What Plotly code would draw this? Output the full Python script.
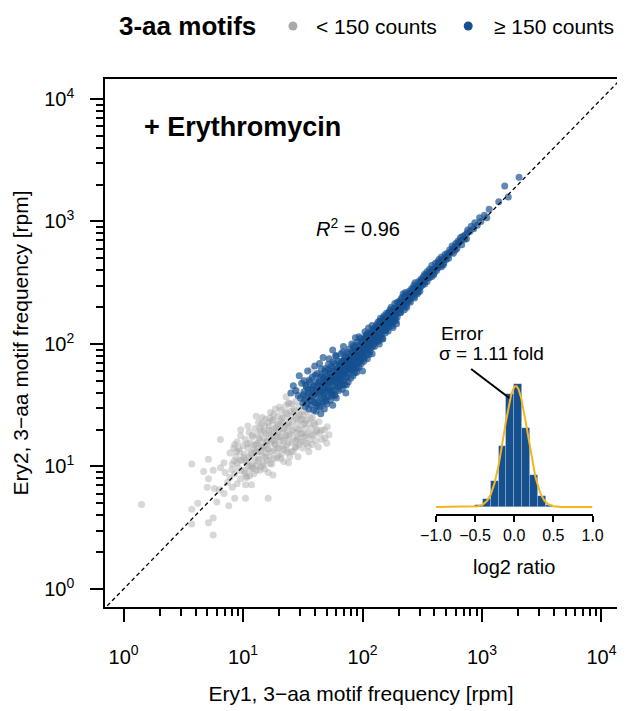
import numpy as np
import plotly.graph_objects as go

# ---------------- data (log10 rpm) ----------------
# (log10 Ery1 frequency, log10 Ery2 frequency) for motifs with < 150 counts
gray_motifs_log10 = [
    (0.15, 0.69), (0.57, 0.53), (0.57, 0.65), (0.57, 1.02), (0.62, 0.70), (0.67, 0.96),
    (0.70, 0.83), (0.71, 0.54), (0.71, 0.90), (0.71, 1.06), (0.75, 0.44), (0.75, 0.58),
    (0.75, 0.97), (0.76, 0.82), (0.78, 0.71), (0.80, 0.81), (0.81, 0.99), (0.81, 1.22),
    (0.84, 0.78), (0.84, 1.03), (0.85, 0.95), (0.87, 0.87), (0.88, 0.68), (0.89, 0.91),
    (0.89, 1.11), (0.91, 0.83), (0.93, 0.74), (0.93, 1.18), (0.95, 0.86), (0.97, 1.05),
    (0.98, 1.30), (1.02, 0.74), (1.02, 0.85), (1.03, 0.91), (1.07, 0.85), (1.11, 0.97),
    (1.11, 1.41), (1.21, 0.74), (1.21, 0.95), (1.25, 0.93), (1.38, 1.03), (1.44, 1.16),
    (0.91, 1.02), (0.92, 1.15), (0.93, 0.94), (0.94, 1.08), (0.95, 1.20), (0.96, 0.99),
    (0.97, 1.12), (0.98, 0.90), (0.99, 1.05), (1.00, 1.17), (0.95, 1.03), (0.98, 1.25),
    (1.01, 0.97), (1.01, 1.10), (1.02, 1.22), (1.03, 1.03), (1.03, 0.92), (1.04, 1.15),
    (1.05, 1.07), (1.05, 1.28), (1.06, 0.98), (1.06, 1.19), (1.07, 1.11), (1.08, 1.02),
    (1.08, 1.24), (1.09, 1.14), (1.09, 0.94), (1.10, 1.07), (1.10, 1.31), (1.02, 1.05),
    (1.07, 1.00), (1.04, 1.33), (1.11, 1.18), (1.11, 1.01), (1.12, 1.12), (1.12, 1.26),
    (1.13, 1.06), (1.13, 1.36), (1.14, 1.21), (1.14, 0.97), (1.15, 1.15), (1.15, 1.29),
    (1.16, 1.09), (1.16, 1.40), (1.17, 1.23), (1.17, 1.03), (1.18, 1.17), (1.18, 1.33),
    (1.19, 1.11), (1.19, 1.27), (1.20, 1.05), (1.20, 1.20), (1.12, 1.19), (1.16, 1.16),
    (1.18, 0.98), (1.14, 1.31), (1.21, 1.36), (1.21, 1.14), (1.22, 1.25), (1.22, 1.08),
    (1.23, 1.44), (1.23, 1.19), (1.24, 1.30), (1.24, 1.02), (1.25, 1.22), (1.25, 1.38),
    (1.26, 1.13), (1.26, 1.28), (1.27, 1.47), (1.27, 1.18), (1.28, 1.33), (1.28, 1.07),
    (1.29, 1.24), (1.29, 1.41), (1.30, 1.15), (1.30, 1.30), (1.22, 1.33), (1.26, 1.21),
    (1.28, 1.26), (1.24, 1.12), (1.31, 1.37), (1.31, 1.21), (1.32, 1.10), (1.32, 1.46),
    (1.33, 1.28), (1.33, 1.17), (1.34, 1.40), (1.34, 1.04), (1.35, 1.33), (1.35, 1.23),
    (1.36, 1.50), (1.36, 1.13), (1.37, 1.29), (1.37, 1.43), (1.38, 1.19), (1.38, 1.36),
    (1.39, 1.08), (1.39, 1.26), (1.40, 1.45), (1.40, 1.33), (1.33, 1.35), (1.36, 1.25),
    (1.38, 1.52), (1.34, 1.14), (1.41, 1.20), (1.41, 1.51), (1.42, 1.38), (1.42, 1.12),
    (1.43, 1.28), (1.43, 1.45), (1.44, 1.16), (1.44, 1.53), (1.45, 1.35), (1.45, 1.24),
    (1.46, 1.41), (1.46, 1.08), (1.47, 1.30), (1.47, 1.49), (1.48, 1.20), (1.48, 1.38),
    (1.49, 1.27), (1.49, 1.45), (1.50, 1.15), (1.50, 1.34), (1.51, 1.42), (1.51, 1.24),
    (1.52, 1.31), (1.53, 1.19), (1.53, 1.38), (1.54, 1.27), (1.55, 1.35), (1.55, 1.12),
    (1.56, 1.22), (1.57, 1.31), (1.58, 1.18), (1.58, 1.40), (1.59, 1.26), (1.60, 1.34),
    (1.61, 1.21), (1.62, 1.30), (1.63, 1.16), (1.64, 1.27), (1.66, 1.22), (1.68, 1.30),
    (1.70, 1.19), (1.72, 1.26), (1.57, 1.79), (1.36, 1.57), (1.45, 1.62),
    (1.005, 1.075), (1.015, 0.945), (1.035, 1.185), (1.045, 1.005), (1.065, 1.095), (1.075, 1.255),
    (1.085, 0.985), (1.095, 1.175), (1.105, 1.125), (1.125, 1.045), (1.135, 1.235), (1.145, 1.125),
    (1.155, 1.345), (1.165, 1.005), (1.175, 1.285), (1.185, 1.075), (1.195, 1.205), (1.205, 1.145),
    (1.215, 1.295), (1.225, 1.025), (1.235, 1.245), (1.245, 1.375), (1.255, 1.065), (1.265, 1.185),
    (1.275, 1.315), (1.285, 1.145), (1.295, 1.345), (1.305, 1.245), (1.315, 1.065), (1.325, 1.395),
    (1.335, 1.215), (1.345, 1.305), (1.355, 1.445), (1.365, 1.175), (1.375, 1.345), (1.385, 1.245),
    (1.395, 1.405), (1.405, 1.125), (1.415, 1.295), (1.425, 1.465), (1.435, 1.215), (1.445, 1.395),
    (1.455, 1.305), (1.465, 1.175), (1.475, 1.425), (1.485, 1.265), (1.495, 1.385), (1.505, 1.205),
    (1.515, 1.355), (1.525, 1.255), (1.535, 1.445), (1.545, 1.165), (1.565, 1.395), (1.575, 1.255),
    (1.595, 1.355), (1.615, 1.285), (1.635, 1.365), (1.655, 1.295), (1.685, 1.235), (1.705, 1.325),
    (0.965, 1.145), (0.985, 0.965), (0.945, 1.125), (0.925, 1.045), (0.905, 0.975), (1.055, 0.925),
    (1.145, 0.995), (1.225, 1.395), (1.305, 1.485), (1.385, 1.515), (1.295, 1.085), (1.375, 1.115),
    (1.455, 1.225), (1.255, 1.425), (1.185, 1.385),
]

# (log10 Ery1 frequency, log10 Ery2 frequency) for motifs with >= 150 counts
blue_motifs_log10 = [
    (1.40, 1.60), (1.42, 1.66), (1.44, 1.62), (1.46, 1.58), (1.47, 1.74), (1.48, 1.56), (1.49, 1.68),
    (1.50, 1.52), (1.51, 1.61), (1.51, 1.70), (1.52, 1.49), (1.53, 1.57), (1.53, 1.65), (1.54, 1.78),
    (1.55, 1.47), (1.55, 1.60), (1.56, 1.54), (1.56, 1.69), (1.57, 1.63), (1.57, 1.50), (1.58, 1.73),
    (1.58, 1.57), (1.59, 1.46), (1.59, 1.66), (1.60, 1.82), (1.60, 1.60), (1.60, 1.52),
    (1.61, 1.45), (1.61, 1.69), (1.62, 1.56), (1.62, 1.76), (1.63, 1.63), (1.63, 1.49), (1.64, 1.70),
    (1.64, 1.58), (1.64, 1.84), (1.65, 1.43), (1.65, 1.66), (1.66, 1.61), (1.66, 1.75), (1.66, 1.53),
    (1.67, 1.68), (1.67, 1.89), (1.67, 1.59), (1.68, 1.47), (1.68, 1.72), (1.68, 1.64), (1.69, 1.80),
    (1.69, 1.56), (1.69, 1.67), (1.70, 1.62), (1.70, 1.74), (1.70, 1.51), (1.62, 1.66), (1.65, 1.73),
    (1.67, 1.52), (1.69, 1.61),
    (1.71, 1.68), (1.71, 1.79), (1.71, 1.57), (1.72, 1.72), (1.72, 1.63), (1.72, 1.88), (1.73, 1.54),
    (1.73, 1.76), (1.73, 1.69), (1.74, 1.82), (1.74, 1.61), (1.74, 1.73), (1.75, 1.66), (1.75, 1.95),
    (1.75, 1.50), (1.76, 1.78), (1.76, 1.70), (1.76, 1.59), (1.77, 1.84), (1.77, 1.74), (1.77, 1.65),
    (1.78, 1.71), (1.78, 1.90), (1.78, 1.56), (1.79, 1.80), (1.79, 1.68), (1.79, 1.75), (1.80, 1.62),
    (1.80, 1.86), (1.80, 1.77), (1.73, 1.62), (1.75, 1.80), (1.77, 1.58), (1.79, 1.72),
    (1.81, 1.74), (1.81, 1.83), (1.81, 1.66), (1.82, 1.79), (1.82, 1.92), (1.82, 1.71), (1.83, 1.63),
    (1.83, 1.86), (1.83, 1.77), (1.84, 1.82), (1.84, 1.70), (1.84, 1.98), (1.85, 1.76), (1.85, 1.89),
    (1.85, 1.67), (1.86, 1.84), (1.86, 1.79), (1.86, 1.60), (1.87, 1.73), (1.87, 1.93), (1.87, 1.86),
    (1.88, 1.81), (1.88, 1.69), (1.88, 1.88), (1.89, 1.77), (1.89, 1.96), (1.89, 1.84), (1.90, 1.72),
    (1.90, 1.90), (1.90, 1.83), (1.82, 1.85), (1.84, 1.75), (1.86, 1.89), (1.88, 1.78),
    (1.91, 1.87), (1.91, 1.79), (1.91, 2.00), (1.92, 1.93), (1.92, 1.83), (1.92, 1.74), (1.93, 1.90),
    (1.93, 1.97), (1.93, 1.86), (1.94, 1.80), (1.94, 1.94), (1.94, 2.05), (1.95, 1.89), (1.95, 1.84),
    (1.95, 1.77), (1.96, 1.99), (1.96, 1.92), (1.96, 1.86), (1.97, 1.95), (1.97, 1.81), (1.97, 2.06),
    (1.98, 1.90), (1.98, 1.98), (1.98, 1.87), (1.99, 1.93), (1.99, 1.84), (1.99, 2.02), (2.00, 1.96),
    (2.00, 1.91), (2.00, 1.78), (1.93, 1.82), (1.96, 1.95),
    (2.01, 2.04), (2.01, 1.93), (2.01, 1.86), (2.02, 1.99), (2.02, 2.10), (2.02, 1.96), (2.03, 2.01),
    (2.03, 1.91), (2.03, 2.07), (2.04, 1.97), (2.04, 2.04), (2.04, 1.88), (2.05, 2.02), (2.05, 2.13),
    (2.05, 1.99), (2.06, 2.06), (2.06, 1.94), (2.06, 2.01), (2.07, 2.09), (2.07, 2.03), (2.07, 1.97),
    (2.08, 2.05), (2.08, 1.92), (2.08, 2.15), (2.09, 2.08), (2.09, 2.00), (2.10, 2.04), (2.10, 2.11),
    (2.10, 1.98), (2.04, 2.08),
    (2.11, 2.07), (2.11, 2.14), (2.12, 2.02), (2.12, 2.10), (2.13, 2.18), (2.13, 2.06), (2.13, 2.12),
    (2.14, 2.00), (2.14, 2.15), (2.15, 2.10), (2.15, 2.21), (2.15, 2.06), (2.16, 2.13), (2.16, 2.08),
    (2.17, 2.19), (2.17, 2.04), (2.17, 2.15), (2.18, 2.11), (2.18, 2.23), (2.18, 2.17), (2.19, 2.14),
    (2.19, 2.09), (2.20, 2.19), (2.20, 2.12), (2.20, 2.25), (2.12, 2.16), (2.16, 2.19),
    (2.21, 2.17), (2.21, 2.23), (2.22, 2.14), (2.22, 2.26), (2.23, 2.20), (2.23, 2.28), (2.24, 2.18),
    (2.24, 2.24), (2.25, 2.21), (2.25, 2.15), (2.26, 2.29), (2.26, 2.23), (2.27, 2.26), (2.27, 2.20),
    (2.27, 2.33), (2.28, 2.24), (2.28, 2.29), (2.29, 2.22), (2.29, 2.34), (2.30, 2.27), (2.30, 2.31),
    (2.24, 2.30), (2.26, 2.19), (2.28, 2.19),
    (2.31, 2.35), (2.31, 2.28), (2.32, 2.31), (2.32, 2.26), (2.33, 2.38), (2.33, 2.34), (2.34, 2.30),
    (2.34, 2.41), (2.35, 2.33), (2.35, 2.28), (2.36, 2.37), (2.36, 2.42), (2.37, 2.34), (2.37, 2.30),
    (2.38, 2.40), (2.38, 2.36), (2.39, 2.43), (2.39, 2.35), (2.40, 2.39), (2.40, 2.34),
    (2.41, 2.45), (2.41, 2.38), (2.42, 2.41), (2.43, 2.48), (2.43, 2.39), (2.44, 2.44), (2.44, 2.50),
    (2.45, 2.42), (2.46, 2.47), (2.46, 2.41), (2.47, 2.51), (2.47, 2.45), (2.48, 2.49), (2.48, 2.43),
    (2.49, 2.53), (2.50, 2.48), (2.50, 2.52),
    (2.51, 2.55), (2.52, 2.49), (2.52, 2.57), (2.53, 2.53), (2.54, 2.59), (2.54, 2.51), (2.55, 2.56),
    (2.56, 2.61), (2.56, 2.54), (2.57, 2.59), (2.58, 2.55), (2.58, 2.64), (2.59, 2.61), (2.60, 2.58),
    (2.61, 2.66), (2.62, 2.60), (2.63, 2.67), (2.63, 2.62), (2.64, 2.69), (2.65, 2.64), (2.66, 2.71),
    (2.66, 2.63), (2.67, 2.69), (2.68, 2.66), (2.69, 2.73), (2.70, 2.69),
    (2.71, 2.74), (2.72, 2.70), (2.73, 2.77), (2.74, 2.75), (2.75, 2.80), (2.76, 2.74), (2.77, 2.79),
    (2.78, 2.82), (2.79, 2.78), (2.80, 2.84),
    (2.81, 2.83), (2.82, 2.87), (2.83, 2.81), (2.84, 2.88), (2.86, 2.89), (2.87, 2.86), (2.88, 2.93),
    (2.90, 2.92), (2.91, 2.96), (2.93, 2.94), (2.94, 2.99), (2.96, 2.97), (2.98, 3.03), (2.99, 3.00),
    (3.02, 3.05), (3.04, 3.03), (3.06, 3.10), (3.14, 3.16), (3.19, 3.29), (3.22, 3.20), (3.31, 3.36),
    (1.505, 1.585), (1.515, 1.545), (1.525, 1.665), (1.535, 1.515), (1.545, 1.625), (1.555, 1.705),
    (1.565, 1.575), (1.575, 1.535), (1.585, 1.645), (1.595, 1.595), (1.605, 1.745), (1.615, 1.615),
    (1.625, 1.525), (1.635, 1.685), (1.645, 1.605), (1.655, 1.795), (1.665, 1.645), (1.675, 1.555),
    (1.685, 1.775), (1.695, 1.695), (1.615, 1.505), (1.645, 1.485), (1.675, 1.725), (1.695, 1.535),
    (1.705, 1.705), (1.715, 1.645), (1.725, 1.765), (1.735, 1.595), (1.745, 1.695), (1.755, 1.855),
    (1.765, 1.735), (1.775, 1.625), (1.785, 1.785), (1.795, 1.655), (1.805, 1.815), (1.815, 1.705),
    (1.825, 1.755), (1.835, 1.665), (1.845, 1.865), (1.855, 1.815), (1.865, 1.725), (1.875, 1.805),
    (1.885, 1.915), (1.895, 1.795), (1.715, 1.835), (1.745, 1.575), (1.775, 1.905), (1.805, 1.685),
    (1.835, 1.935), (1.865, 1.665), (1.895, 1.875), (1.725, 1.695), (1.785, 1.735), (1.845, 1.785),
    (1.905, 1.855), (1.915, 1.945), (1.925, 1.885), (1.935, 1.765), (1.945, 1.915), (1.955, 2.015),
    (1.965, 1.895), (1.975, 1.855), (1.985, 1.955), (1.995, 1.885), (2.005, 2.005), (2.015, 1.965),
    (2.025, 2.045), (2.035, 1.945), (2.045, 2.025), (2.055, 1.915), (2.065, 2.085), (2.075, 2.015),
    (2.085, 1.985), (2.095, 2.125), (1.925, 1.985), (1.955, 1.805), (1.985, 2.045), (2.015, 1.885),
    (2.045, 1.965), (2.075, 2.105), (1.915, 1.815), (1.975, 1.935), (2.035, 2.075), (2.095, 2.035),
    (2.105, 2.075), (2.115, 2.035), (2.125, 2.135), (2.135, 2.095), (2.145, 2.185), (2.155, 2.135),
    (2.165, 2.045), (2.175, 2.165), (2.185, 2.205), (2.195, 2.115), (2.205, 2.165), (2.215, 2.105),
    (2.225, 2.215), (2.235, 2.165), (2.245, 2.265), (2.255, 2.185), (2.265, 2.255), (2.275, 2.235),
    (2.285, 2.165), (2.295, 2.285), (2.135, 2.025), (2.175, 2.215), (2.215, 2.245), (2.255, 2.135),
    (2.305, 2.335), (2.315, 2.255), (2.325, 2.365), (2.345, 2.345), (2.355, 2.395), (2.365, 2.315),
    (2.385, 2.365), (2.395, 2.415), (2.415, 2.415), (2.425, 2.455), (2.435, 2.375), (2.455, 2.465),
    (2.465, 2.425), (2.485, 2.465), (2.495, 2.515), (2.515, 2.505), (2.535, 2.565), (2.545, 2.545),
    (2.565, 2.575), (2.585, 2.605), (2.595, 2.565),
    (2.615, 2.625), (2.635, 2.655), (2.655, 2.675), (2.675, 2.645), (2.695, 2.705), (2.715, 2.725),
    (2.735, 2.745), (2.755, 2.775), (2.775, 2.765), (2.795, 2.815), (2.825, 2.845), (2.855, 2.855),
    (2.875, 2.905),
]

# inset histogram of log2(Ery2/Ery1) for >= 150-count motifs
hist_bin_left = [-0.5, -0.4, -0.3, -0.2, -0.1, 0.0, 0.1, 0.2, 0.3, 0.4]
hist_counts = [5, 25, 78, 182, 338, 367, 235, 95, 32, 6]
hist_bin_width = 0.1
error_sigma_fold = 1.11   # fitted normal, sigma expressed as fold change
error_fit_mean = 0.02
r_squared = "0.96"

major_ticks = [1, 10, 100, 1000, 10000]
major_labels = ["10<sup>0</sup>", "10<sup>1</sup>", "10<sup>2</sup>", "10<sup>3</sup>", "10<sup>4</sup>"]
inset_ticks = [-1.0, -0.5, 0.0, 0.5, 1.0]
inset_labels = ["\u22121.0", "\u22120.5", "0.0", "0.5", "1.0"]
identity_line = [0.5, 30000]

# ---------------- styling ----------------
FONT = "Liberation Sans, Arial, Helvetica, sans-serif"
BLUE = "#15508f"
GRAY = "#a8a8a8"
GOLD = "#F5B521"

minor_ticks = [k * 10 ** d for d in range(0, 4) for k in range(2, 10)]

gx = [10 ** a for a, b in gray_motifs_log10]
gy = [10 ** b for a, b in gray_motifs_log10]
bx = [10 ** a for a, b in blue_motifs_log10]
by = [10 ** b for a, b in blue_motifs_log10]

fig = go.Figure()
fig.add_trace(go.Scatter(x=gx, y=gy, mode="markers", name="< 150 counts",
                         marker=dict(color=GRAY, size=7, opacity=0.45, line=dict(width=0)),
                         showlegend=False, hoverinfo="skip"))
fig.add_trace(go.Scatter(x=bx, y=by, mode="markers", name="\u2265 150 counts",
                         marker=dict(color=BLUE, size=7, opacity=0.68, line=dict(width=0)),
                         showlegend=False, hoverinfo="skip"))
fig.add_trace(go.Scatter(x=identity_line, y=identity_line, mode="lines",
                         line=dict(color="black", width=1.3, dash="4px,3px"),
                         showlegend=False, hoverinfo="skip"))

# inset histogram
centers = [l + hist_bin_width / 2 for l in hist_bin_left]
fig.add_trace(go.Bar(x=centers, y=hist_counts, width=hist_bin_width, xaxis="x2", yaxis="y2",
                     marker=dict(color=BLUE, line=dict(color="rgba(255,255,255,0.35)", width=0.6)),
                     showlegend=False, hoverinfo="skip"))
fit_sd = np.log2(error_sigma_fold)
fx = np.linspace(-1, 1, 401)
area = sum(hist_counts) * hist_bin_width
fy = area / (fit_sd * np.sqrt(2 * np.pi)) * np.exp(-0.5 * ((fx - error_fit_mean) / fit_sd) ** 2)
fig.add_trace(go.Scatter(x=fx, y=fy, mode="lines", xaxis="x2", yaxis="y2",
                         line=dict(color=GOLD, width=2), showlegend=False, hoverinfo="skip"))

# The page body keeps an 8px default margin, so the figure is made 8px smaller and all
# layout positions below are given in window pixels and shifted by that offset.
OFF = 8
W, H = 628 - OFF, 711 - OFF
PLOT_L, PLOT_T, PLOT_R, PLOT_B = 105, 79, 628, 607   # plot area in window pixels
ML, MT = PLOT_L - OFF, PLOT_T - OFF
MR, MB = (628 - PLOT_R), H - (PLOT_B - OFF)
PW, PH = PLOT_R - PLOT_L, PLOT_B - PLOT_T


def px(xp):
    return (xp - PLOT_L) / PW


def py(yp):
    return (PLOT_B - yp) / PH


axis_common = dict(type="log", showgrid=False, zeroline=False, showline=True, linecolor="black",
                   linewidth=1.5, ticks="outside", ticklen=13, tickwidth=1.5, tickcolor="black",
                   tickvals=major_ticks, ticktext=major_labels,
                   tickfont=dict(family=FONT, size=20, color="black"),
                   minor=dict(tickvals=minor_ticks, ticks="outside", ticklen=7, tickwidth=1.5,
                              tickcolor="black", showgrid=False))

fig.update_layout(
    width=W, height=H, margin=dict(l=ML, r=MR, t=MT, b=MB),
    paper_bgcolor="white", plot_bgcolor="white",
    font=dict(family=FONT, color="black"),
    xaxis=dict(**axis_common, range=[-0.156, 4.13], mirror=True, ticklabelstandoff=18,
               title=dict(text="Ery1, 3\u2212aa motif frequency [rpm]",
                          font=dict(family=FONT, size=21), standoff=20)),
    yaxis=dict(**axis_common, range=[-0.147, 4.163], mirror=False, ticklabelstandoff=12,
               title=dict(text="Ery2, 3\u2212aa motif frequency [rpm]",
                          font=dict(family=FONT, size=21), standoff=10)),
    xaxis2=dict(domain=[px(443), px(603)], anchor="y2", range=[-1, 1], showgrid=False,
                zeroline=False, showline=True, linecolor="black", linewidth=1.5,
                ticks="outside", ticklen=6, tickwidth=1.5, tickcolor="black",
                tickvals=inset_ticks, ticktext=inset_labels,
                tickfont=dict(family=FONT, size=16, color="black"),
                title=dict(text="log2 ratio", font=dict(family=FONT, size=20), standoff=17)),
    yaxis2=dict(domain=[py(514), py(380)], anchor="x2", range=[-20.9, 379], visible=False),
    bargap=0,
)

ann = []
ann.append(dict(text="<b>3-aa motifs</b>", x=px(117), y=py(26), xref="paper", yref="paper",
                xanchor="left", yanchor="middle", showarrow=False, font=dict(size=26)))
ann.append(dict(text="< 150 counts", x=px(319), y=py(26), xref="paper", yref="paper",
                xanchor="left", yanchor="middle", showarrow=False, font=dict(size=21)))
ann.append(dict(text="\u2265 150 counts", x=px(500), y=py(26), xref="paper", yref="paper",
                xanchor="left", yanchor="middle", showarrow=False, font=dict(size=21)))
ann.append(dict(text="<b>+ Erythromycin</b>", x=px(143), y=py(127), xref="paper", yref="paper",
                xanchor="left", yanchor="middle", showarrow=False, font=dict(size=27)))
ann.append(dict(text="<i>R</i><sup>2</sup> = " + r_squared, x=px(318), y=py(227), xref="paper",
                yref="paper", xanchor="left", yanchor="middle", showarrow=False, font=dict(size=20)))
ann.append(dict(text="Error", x=px(446), y=py(333), xref="paper", yref="paper",
                xanchor="left", yanchor="middle", showarrow=False, font=dict(size=19)))
ann.append(dict(text="\u03c3 = %.2f fold" % error_sigma_fold, x=px(444), y=py(353), xref="paper",
                yref="paper", xanchor="left", yanchor="middle", showarrow=False, font=dict(size=19)))
fig.update_layout(annotations=ann)

shapes = []
for cx, col in [(297, "#aaaaaa"), (476, BLUE)]:
    shapes.append(dict(type="circle", xref="paper", yref="paper", xsizemode="pixel",
                       ysizemode="pixel", xanchor=px(cx), yanchor=py(26), x0=-4.5, x1=4.5,
                       y0=-4.5, y1=4.5, fillcolor=col, line=dict(width=0)))
shapes.append(dict(type="line", xref="paper", yref="paper", x0=px(479), y0=py(369),
                   x1=px(518), y1=py(398), line=dict(color="black", width=2)))
fig.update_layout(shapes=shapes)

fig.write_html("out.html", config={"displayModeBar": False})
